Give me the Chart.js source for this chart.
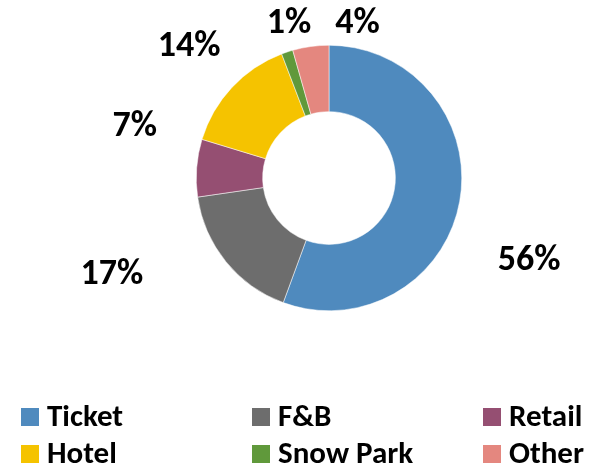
<!DOCTYPE html>
<html lang="en">
<head>
    <meta charset="UTF-8">
    <title>Revenue mix</title>
    <script src="https://cdn.jsdelivr.net/npm/chart.js@4.4.1/dist/chart.umd.min.js"></script>
    <style>
        html, body {
            margin: 0;
            padding: 0;
            background: #fff;
        }
        .chart-box {
            position: relative;
            width: 607px;
            height: 470px;
        }
    </style>
</head>
<body>
    <div class="chart-box">
        <canvas id="mixChart"></canvas>
    </div>

    <script>
        // data (share of total, %)
        const categories = ['Ticket', 'F&B', 'Retail', 'Hotel', 'Snow Park', 'Other'];
        const shares = [55.6, 17.1, 7.0, 14.5, 1.4, 4.4];
        const shareLabels = ['56%', '17%', '7%', '14%', '1%', '4%'];
        const colors = ['#4f8abe', '#6d6d6d', '#954f72', '#f5c300', '#60993b', '#e4877f'];

        // hand-dragged label offsets, like in the original spreadsheet
        const labelNudge = [[25, 49], [-79, -18], [-17, -41], [-10, -13], [16, 12], [53, 19]];

        const FONT = "Carlito, Calibri, 'Open Sans', sans-serif";

        const pctLabels = {
            id: 'pctLabels',
            afterDatasetsDraw(chart) {
                const ctx = chart.ctx;
                const arcs = chart.getDatasetMeta(0).data;
                ctx.save();
                ctx.font = 'bold 36px ' + FONT;
                ctx.fillStyle = '#000';
                ctx.textAlign = 'center';
                ctx.textBaseline = 'alphabetic';
                arcs.forEach((arc, i) => {
                    const mid = (arc.startAngle + arc.endAngle) / 2;
                    const r = arc.outerRadius + 45;
                    const x = arc.x + Math.cos(mid) * r + labelNudge[i][0];
                    const y = arc.y + Math.sin(mid) * r + labelNudge[i][1];
                    ctx.fillText(shareLabels[i], x, y + 12);
                });
                ctx.restore();
            }
        };

        // 3 column legend under the ring
        const gridLegend = {
            id: 'gridLegend',
            afterDraw(chart) {
                const ctx = chart.ctx;
                ctx.save();
                ctx.font = 'bold 31px ' + FONT;
                ctx.textBaseline = 'alphabetic';
                ctx.textAlign = 'left';
                categories.forEach((name, i) => {
                    const col = i % 3;
                    const row = Math.floor(i / 3);
                    const x = 21 + col * 231;
                    const y = 408 + row * 37;
                    ctx.fillStyle = colors[i];
                    ctx.fillRect(x, y, 18, 18);
                    ctx.fillStyle = '#000';
                    ctx.fillText(name, x + 26, y + 18);
                });
                ctx.restore();
            }
        };

        new Chart(document.getElementById('mixChart'), {
            type: 'doughnut',
            data: {
                labels: categories,
                datasets: [{
                    data: shares,
                    backgroundColor: colors,
                    borderColor: '#ffffff',
                    borderWidth: 0.5
                }]
            },
            options: {
                responsive: true,
                maintainAspectRatio: false,
                animation: false,
                cutout: '50%',
                layout: {
                    padding: { left: 196, top: 45, right: 145, bottom: 159 }
                },
                plugins: {
                    legend: { display: false },
                    tooltip: { enabled: false }
                }
            },
            plugins: [pctLabels, gridLegend]
        });
    </script>
</body>
</html>
